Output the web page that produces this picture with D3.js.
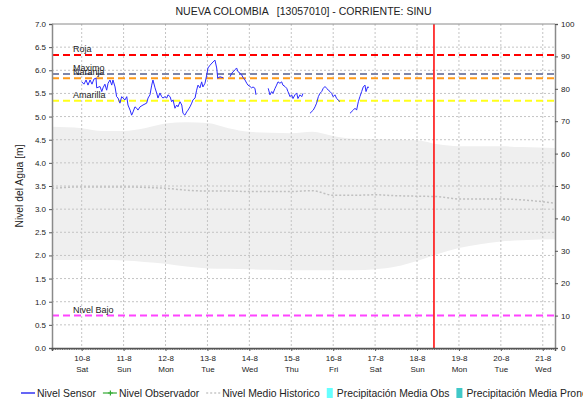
<!DOCTYPE html>
<html>
<head>
<meta charset="utf-8">
<script src="https://cdn.jsdelivr.net/npm/d3@7"></script>
<style>
  body { margin: 0; background: #fff; }
  svg text { font-family: "Liberation Sans", Arial, sans-serif; fill: #222; }
</style>
</head>
<body>
<div id="chart"></div>
<script>
// station / title
var titleText = "NUEVA COLOMBIA   [13057010] - CORRIENTE: SINU";

// sensor level, hours counted from 9-8 00:00 (null = gap)
var sensorHours = [24, 25.3, 26.5, 27.6, 28.8, 29.9, 31.0, 32.2, 32.6, 34.5, 35.5, 36.2, 37.3, 38.3, 39.1, 40.2, 41.2, 41.9, 43.1, 44.0,
  44.8, 45.9, 46.9, 47.6, 48.8, 49.8, 50.5, 51.7, 52.6, 53.4, 54.5, 55.5, 56.2, 57.4, 59.1, 61.2, 62.0, 63.1, 64.1, 64.8,
  66.0, 66.9, 67.7, 68.8, 69.8, 70.5, 71.7, 72.7, 73.4, 74.6, 75.5, 76.3, 77.4, 78.4, 79.1, 80.3, 81.3, 82.0, 83.1, 84.1,
  84.9, 86.0, 87.0, 87.7, 88.9, 89.8, 90.6, 91.7, 92.7, 93.4, 94.6, 95.6, 96.3, 97.5, 99.2, 100.3, 101.3, 101.9, 103.2, 104.9,
  106.9,
  108.9, 110.0, 111.8, 112.7, 113.5, 114.6, 115.6, 116.3, 117.5, 118.5, 119.2, 120.4, 121.3, 122.1, 123.2, 123.8,
  127.0,
  130.8, 131.8, 132.8, 133.5, 134.7, 135.6, 136.4, 137.5, 138.5, 139.2, 140.4, 141.4, 142.1, 143.3, 144.2, 145.0, 146.1, 147.1,
  147.8, 149.0, 150.0, 150.7,
  152.7,
  154.7, 156.6, 157.6, 158.5, 159.5, 160.4, 161.4, 162.3, 163.3, 164.3, 165.2, 166.2, 167.1, 168.0, 169.0, 170.0, 171.9,
  174.5,
  177.6, 179.5, 180.5, 181.4, 182.4, 183.3, 184.3, 185.2, 186.2, 186.8, 187.7, 188.5];
var sensorLevels = [5.75, 5.70, 5.79, 5.68, 5.79, 5.70, 5.81, 5.83, 5.62, 5.65, 5.54, 5.62, 5.70, 5.57, 5.72, 5.79, 5.68, 5.79, 5.64, 5.43,
  5.40, 5.29, 5.43, 5.40, 5.36, 5.43, 5.25, 5.14, 5.03, 5.10, 5.21, 5.18, 5.14, 5.21, 5.25, 5.29, 5.40, 5.47, 5.68, 5.79,
  5.62, 5.51, 5.40, 5.51, 5.43, 5.40, 5.43, 5.40, 5.47, 5.43, 5.32, 5.36, 5.18, 5.25, 5.21, 5.32, 5.25, 5.07, 5.03, 5.10,
  5.14, 5.21, 5.29, 5.36, 5.40, 5.57, 5.68, 5.62, 5.75, 5.64, 5.72, 5.90, 6.05, 6.11, 6.18, 6.22, 6.05, 5.83, 5.86, 5.84,
  null,
  5.86, 5.94, 6.01, 6.05, 5.97, 5.94, 5.90, 5.85, 5.79, 5.72, 5.68, 5.65, 5.62, 5.64, 5.61, 5.47,
  null,
  5.61, 5.47, 5.54, 5.50, 5.61, 5.68, 5.75, 5.72, 5.75, 5.68, 5.65, 5.61, 5.54, 5.43, 5.47, 5.39, 5.47, 5.51,
  5.39, 5.47, 5.43, 5.50,
  null,
  5.07, 5.14, 5.21, 5.29, 5.43, 5.50, 5.54, 5.61, 5.65, 5.61, 5.57, 5.54, 5.50, 5.43, 5.47, 5.39, 5.32,
  null,
  5.07, 5.14, 5.18, 5.14, 5.32, 5.43, 5.54, 5.64, 5.68, 5.54, 5.64, 5.63];

// historical band (max / min) and mean level
var histHours = [7, 24, 36, 48, 60, 72, 84, 96, 108, 120, 132, 144, 156, 168, 180, 192, 204, 216, 228, 240, 252, 264, 276, 295];
var histUpper = [4.78, 4.75, 4.69, 4.69, 4.75, 4.85, 4.88, 4.86, 4.75, 4.67, 4.65, 4.64, 4.67, 4.58, 4.52, 4.51, 4.50, 4.49, 4.40, 4.36, 4.36, 4.36, 4.34, 4.32];
var histLower = [1.90, 1.90, 1.90, 1.89, 1.86, 1.82, 1.76, 1.72, 1.71, 1.70, 1.69, 1.68, 1.68, 1.68, 1.68, 1.70, 1.76, 1.88, 2.03, 2.16, 2.24, 2.30, 2.33, 2.35];
var histMean  = [3.45, 3.48, 3.48, 3.48, 3.47, 3.45, 3.41, 3.39, 3.39, 3.38, 3.38, 3.38, 3.40, 3.30, 3.30, 3.31, 3.29, 3.28, 3.27, 3.22, 3.22, 3.22, 3.20, 3.13];

// alert thresholds
var thresholdNames  = ["Roja", "Maximo", "Naranja", "Amarilla", "Nivel Bajo"];
var thresholdValues = [6.33, 5.92, 5.83, 5.34, 0.70];

// time window and "now"
var startHour = 7, endHour = 295, nowHour = 225.7;

var legendNames = ["Nivel Sensor", "Nivel Observador", "Nivel Medio Historico", "Precipitación Media Obs", "Precipitación Media Pronosticada"];

// ---- styles ----
var thresholdColors = {"Roja": "#ff0000", "Maximo": "#7f86a8", "Naranja": "#ff9a1a", "Amarilla": "#ffff1a", "Nivel Bajo": "#ff44ff"};
var legendColors = ["#0000ee", "#33aa33", "#c8c8c8", "#66ffff", "#40c8c8"];

var margin = {top: 24, right: 28, bottom: 53, left: 52};
var width = 583 - margin.left - margin.right;
var height = 401 - margin.top - margin.bottom;

var base = new Date(2019, 7, 9, 0, 0, 0);
function toDate(h) { return new Date(base.getTime() + h * 3600000); }

var x = d3.scaleTime()
  .domain([toDate(startHour), toDate(endHour)])
  .range([0, width]);

var y = d3.scaleLinear()
  .domain([0, 7])
  .range([height, 0]);

var y2 = d3.scaleLinear()
  .domain([0, 100])
  .range([height, 0]);

var svg = d3.select("#chart").append("svg")
  .attr("width", 583)
  .attr("height", 401);

svg.append("text")
  .attr("x", margin.left + width / 2)
  .attr("y", 15)
  .attr("text-anchor", "middle")
  .style("font-size", "10.5px")
  .style("white-space", "pre")
  .attr("xml:space", "preserve")
  .text(titleText);

var g = svg.append("g")
  .attr("transform", "translate(" + margin.left + "," + margin.top + ")");

// historical band
var band = histHours.map(function (h, i) { return {t: toDate(h), hi: histUpper[i], lo: histLower[i], mean: histMean[i]}; });

g.append("path")
  .datum(band)
  .attr("fill", "#efefef")
  .attr("d", d3.area()
    .x(function (d) { return x(d.t); })
    .y0(function (d) { return y(d.lo); })
    .y1(function (d) { return y(d.hi); })
    .curve(d3.curveMonotoneX));

// grid
var days = d3.timeDay.range(toDate(24), toDate(endHour));
g.append("g").selectAll("line").data(days).enter().append("line")
  .attr("x1", function (d) { return x(d); }).attr("x2", function (d) { return x(d); })
  .attr("y1", 0).attr("y2", height)
  .attr("stroke", "#c4c4c4").attr("stroke-dasharray", "2,2");

g.append("g").selectAll("line").data(d3.range(0.5, 7, 0.5)).enter().append("line")
  .attr("x1", 0).attr("x2", width)
  .attr("y1", function (d) { return y(d); }).attr("y2", function (d) { return y(d); })
  .attr("stroke", "#c4c4c4").attr("stroke-dasharray", "2,2");

// mean historic line
g.append("path")
  .datum(band)
  .attr("fill", "none")
  .attr("stroke", "#c0c0c0")
  .attr("stroke-width", 1.5)
  .attr("stroke-dasharray", "2,2")
  .attr("d", d3.line()
    .x(function (d) { return x(d.t); })
    .y(function (d) { return y(d.mean); })
    .curve(d3.curveMonotoneX));

// thresholds
thresholdNames.forEach(function (name, i) {
  g.append("line")
    .attr("x1", 0).attr("x2", width)
    .attr("y1", y(thresholdValues[i])).attr("y2", y(thresholdValues[i]))
    .attr("stroke", thresholdColors[name])
    .attr("stroke-width", 2)
    .attr("stroke-dasharray", "7,4");
});
thresholdNames.forEach(function (name, i) {
  g.append("text")
    .attr("x", 21)
    .attr("y", y(thresholdValues[i]) - 3)
    .style("font-size", "9px")
    .text(name);
});

// sensor line
var sensor = sensorHours.map(function (h, i) { return {t: toDate(h), v: sensorLevels[i]}; });
g.append("path")
  .datum(sensor)
  .attr("fill", "none")
  .attr("stroke", "#2b2bff")
  .attr("stroke-width", 1)
  .attr("d", d3.line()
    .defined(function (d) { return d.v !== null; })
    .x(function (d) { return x(d.t); })
    .y(function (d) { return y(d.v); }));

// now line
g.append("line")
  .attr("x1", x(toDate(nowHour))).attr("x2", x(toDate(nowHour)))
  .attr("y1", 0).attr("y2", height)
  .attr("stroke", "#ff0000").attr("stroke-width", 1.5);

// frame
g.append("line").attr("x1", 0).attr("x2", width).attr("y1", 0).attr("y2", 0)
  .attr("stroke", "#8a8a8a");

// axes
var yAxis = g.append("g")
  .call(d3.axisLeft(y).tickValues(d3.range(0, 7.01, 0.5)).tickFormat(d3.format(".1f")).tickSize(3));
var yAxis2 = g.append("g")
  .attr("transform", "translate(" + width + ",0)")
  .call(d3.axisRight(y2).tickValues(d3.range(0, 101, 10)).tickSize(3));
[yAxis, yAxis2].forEach(function (a) {
  a.select(".domain").attr("stroke", "#8a8a8a").attr("stroke-width", 1.5);
  a.selectAll(".tick line").attr("stroke", "#555");
  a.selectAll("text").style("font-size", "8px").attr("fill", "#222").style("font-family", "Liberation Sans, Arial, sans-serif");
});

// minor hourly ticks on the time axis
var hours = d3.timeHour.range(toDate(startHour), toDate(endHour));
g.append("g").selectAll("line").data(hours).enter().append("line")
  .attr("x1", function (d) { return x(d); }).attr("x2", function (d) { return x(d); })
  .attr("y1", height).attr("y2", height + 2)
  .attr("stroke", "#555").attr("stroke-width", 0.8);

var xAxis = g.append("g")
  .attr("transform", "translate(0," + height + ")")
  .call(d3.axisBottom(x).tickValues(days).tickSize(3).tickFormat(d3.timeFormat("%-d-%-m")));
xAxis.select(".domain").attr("stroke", "#555").attr("stroke-width", 1.5);
xAxis.selectAll(".tick line").attr("stroke", "#555");
xAxis.selectAll(".tick text")
  .style("font-size", "8px").style("font-family", "Liberation Sans, Arial, sans-serif").attr("fill", "#222")
  .attr("y", 7)
  .each(function (d) {
    d3.select(this.parentNode).append("text")
      .attr("y", 18).attr("dy", "0.71em")
      .attr("text-anchor", "middle")
      .style("font-size", "8px")
      .text(d3.timeFormat("%a")(d));
  });

// y title
svg.append("text")
  .attr("transform", "translate(23," + (margin.top + height / 2) + ") rotate(-90)")
  .attr("text-anchor", "middle")
  .style("font-size", "10.3px")
  .text("Nivel del Agua [m]");

// legend
var lg = svg.append("g").attr("transform", "translate(0,393)");
var lx = 21;
legendNames.forEach(function (name, i) {
  if (i < 3) {
    lg.append("line").attr("x1", lx).attr("x2", lx + 14).attr("y1", 0).attr("y2", 0)
      .attr("stroke", legendColors[i])
      .attr("stroke-width", i == 2 ? 1.5 : 1.2)
      .attr("stroke-dasharray", i == 2 ? "2,2" : null);
    if (i == 1) {
      lg.append("path").attr("d", "M" + (lx + 5) + ",0h5M" + (lx + 7.5) + ",-2.5v5")
        .attr("stroke", legendColors[i]).attr("stroke-width", 1.2);
    }
    lx += 16;
  } else {
    lg.append("rect").attr("x", lx).attr("y", -5).attr("width", 6).attr("height", 10)
      .attr("fill", legendColors[i]);
    lx += 10;
  }
  var t = lg.append("text").attr("x", lx).attr("y", 3.7).style("font-size", "10.4px").text(name);
  lx += t.node().getComputedTextLength() + 7;
});
</script>
</body>
</html>
